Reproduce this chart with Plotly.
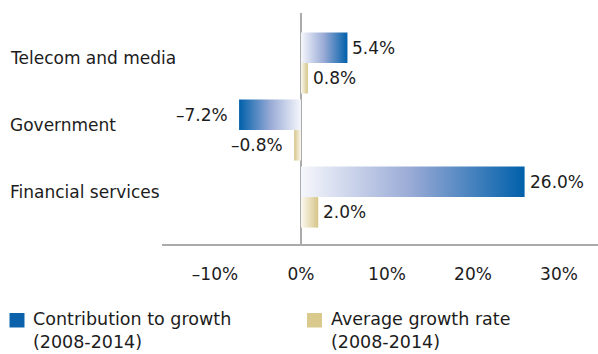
import plotly.graph_objects as go

# --- data -------------------------------------------------------------
sectors = ["Telecom and media", "Government", "Financial services"]
contribution = [5.4, -7.2, 26.0]      # contribution to growth, 2008-2014 (%)
avg_growth = [0.8, -0.8, 2.0]         # average growth rate, 2008-2014 (%)
tick_vals = [-10, 0, 10, 20, 30]
tick_text = ["\u201310%", "0%", "10%", "20%", "30%"]
series_names = ["Contribution to growth<br>(2008-2014)",
                "Average growth rate<br>(2008-2014)"]

# --- styling ----------------------------------------------------------
W, H = 598, 354
M_L, M_R, M_T, M_B = 162, 0, 13, 110
FONT = "DejaVu Sans"
TXT = "#1c1c1c"
AXIS_GREY = "#ababab"
BLUE_SCALE = [[0, "#f6f7fc"], [0.5, "#97a9d5"], [1, "#0060aa"]]
TAN_SCALE = [[0, "#fbf9f1"], [1, "#d6c588"]]
BLUE_SOLID = "#0b62ab"
TAN_SOLID = "#d9c98d"
BAR_H = 0.455

PLOT_W = W - M_L - M_R
PLOT_H = H - M_T - M_B


def px_x(p):
    """pixel column -> paper x"""
    return (p - M_L) / PLOT_W


def px_y(p):
    """pixel row -> paper y"""
    return (H - M_B - p) / PLOT_H


fig = go.Figure()


def add_bar(value, y0, y1, scale):
    lo, hi = min(0, value), max(0, value)
    cs = scale if value >= 0 else [[1 - s, c] for s, c in reversed(scale)]
    fig.add_trace(go.Scatter(
        x=[0, value, value, 0, 0],
        y=[y0, y0, y1, y1, y0],
        mode="lines",
        fill="toself",
        line=dict(width=0),
        fillgradient=dict(type="horizontal", colorscale=cs, start=lo, stop=hi),
        hoveron="fills",
        showlegend=False,
    ))


def add_value_label(value, yc):
    txt = ("\u2013" if value < 0 else "") + f"{abs(value):.1f}%"
    fig.add_annotation(
        x=value, y=yc, text=txt, showarrow=False,
        xanchor="left" if value >= 0 else "right",
        xshift=3 if value >= 0 else -9,
        font=dict(family=FONT, size=17, color=TXT),
    )


for i, name in enumerate(sectors):
    add_bar(contribution[i], i - BAR_H, i, BLUE_SCALE)
    add_bar(avg_growth[i], i, i + BAR_H, TAN_SCALE)
    add_value_label(contribution[i], i - BAR_H / 2)
    add_value_label(avg_growth[i], i + BAR_H / 2)
    # category label, left aligned at the chart edge
    fig.add_annotation(
        x=px_x(8), xref="paper", y=i, yref="y", text=name,
        showarrow=False, xanchor="left", yanchor="middle", yshift=5,
        font=dict(family=FONT, size=17, color=TXT),
    )

# --- legend (drawn as swatches + text) --------------------------------
legend_items = [(9.5, 30.5, BLUE_SOLID), (307, 328.5, TAN_SOLID)]
for (sx, tx, col), label in zip(legend_items, series_names):
    fig.add_shape(type="rect", xref="paper", yref="paper",
                  x0=px_x(sx), x1=px_x(sx + 15), y0=px_y(313), y1=px_y(327.5),
                  fillcolor=col, line=dict(width=0))
    fig.add_annotation(
        x=px_x(tx), xref="paper", y=px_y(307), yref="paper", text=label,
        showarrow=False, xanchor="left", yanchor="top", align="left",
        font=dict(family=FONT, size=17.5, color=TXT),
    )

k = 8.6  # pixels per percentage point
x_lo = -139 / k
x_hi = (W - M_L - M_R - 139) / k

fig.update_layout(
    width=W, height=H,
    margin=dict(l=M_L, r=M_R, t=M_T, b=M_B),
    paper_bgcolor="white", plot_bgcolor="white",
    showlegend=False,
    xaxis=dict(
        range=[x_lo, x_hi], tickvals=tick_vals, ticktext=tick_text,
        showgrid=False, zeroline=True, zerolinecolor=AXIS_GREY, zerolinewidth=2,
        showline=True, linecolor=AXIS_GREY, linewidth=2,
        ticks="outside", ticklen=14, tickcolor="rgba(0,0,0,0)",
        tickfont=dict(family=FONT, size=17, color=TXT),
        fixedrange=True,
    ),
    yaxis=dict(
        range=[2.70, -0.746], showgrid=False, zeroline=False,
        showline=False, showticklabels=False, ticks="", fixedrange=True,
    ),
)

fig.write_html("out.html")
